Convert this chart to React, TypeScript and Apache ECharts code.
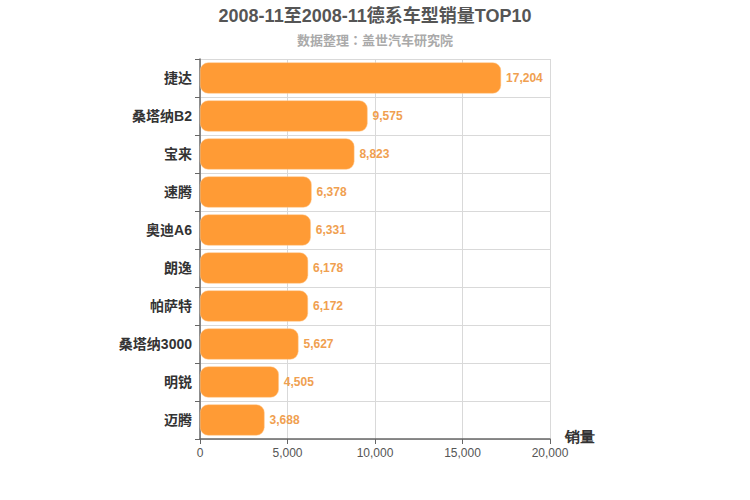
import React, { useEffect, useRef } from "react";
import * as echarts from "echarts";

const categories = ["捷达", "桑塔纳B2", "宝来", "速腾", "奥迪A6", "朗逸", "帕萨特", "桑塔纳3000", "明锐", "迈腾"];
const sales = [17204, 9575, 8823, 6378, 6331, 6178, 6172, 5627, 4505, 3688];
const titleText = "2008-11至2008-11德系车型销量TOP10";
const subText = "数据整理：盖世汽车研究院";

export default function App() {
  const ref = useRef<HTMLDivElement>(null);
  useEffect(() => {
    const chart = echarts.init(ref.current!, null, { renderer: "svg" });
    chart.setOption({
      animation: false,
      title: {
        text: titleText,
        subtext: subText,
        left: "center",
        top: 2,
        itemGap: 8,
        textStyle: { fontSize: 18, fontWeight: "bold", color: "#555", fontFamily: "Arial, 'Noto Sans CJK SC', sans-serif" },
        subtextStyle: { fontSize: 13, fontWeight: "bold", color: "#aaa", fontFamily: "'Noto Sans CJK TC', sans-serif" },
      },
      grid: { left: 200, right: 200, top: 59, bottom: 61 },
      xAxis: {
        type: "value",
        min: 0,
        max: 20000,
        interval: 5000,
        name: "销量",
        nameLocation: "end",
        nameGap: 15,
        nameTextStyle: { fontSize: 15, color: "#333", fontWeight: "bold", align: "left", verticalAlign: "top", padding: [-10, 0, 0, 0] },
        axisLine: { show: true, lineStyle: { color: "#666", width: 1.5 } },
        axisTick: { show: true, lineStyle: { color: "#666" } },
        axisLabel: { color: "#555", fontSize: 12, fontFamily: "Arial, sans-serif", formatter: (v: number) => v.toLocaleString("en-US") },
        splitLine: { show: true, lineStyle: { color: "#d9d9d9" } },
      },
      yAxis: {
        type: "category",
        data: categories,
        inverse: true,
        axisLine: { show: true, lineStyle: { color: "#666", width: 1.5 } },
        axisTick: { show: true, lineStyle: { color: "#666" } },
        axisLabel: { color: "#333", fontSize: 14, fontWeight: "bold", margin: 8, fontFamily: "Arial, 'Noto Sans CJK SC', sans-serif" },
        splitLine: { show: true, lineStyle: { color: "#d9d9d9" } },
      },
      series: [
        {
          type: "bar",
          data: sales,
          barWidth: "82%",
          itemStyle: { color: "#ff9b35", borderRadius: 8, borderColor: "#ffc890", borderWidth: 0.5 },
          label: {
            show: true,
            position: "right",
            color: "#f0a050",
            fontSize: 12,
            fontWeight: "bold",
            fontFamily: "Arial, sans-serif",
            formatter: (p: any) => Number(p.value).toLocaleString("en-US"),
          },
        },
      ],
    });
    return () => chart.dispose();
  }, []);
  return <div ref={ref} style={{ width: 750, height: 500, position: "absolute", left: 0, top: 0 }} />;
}
